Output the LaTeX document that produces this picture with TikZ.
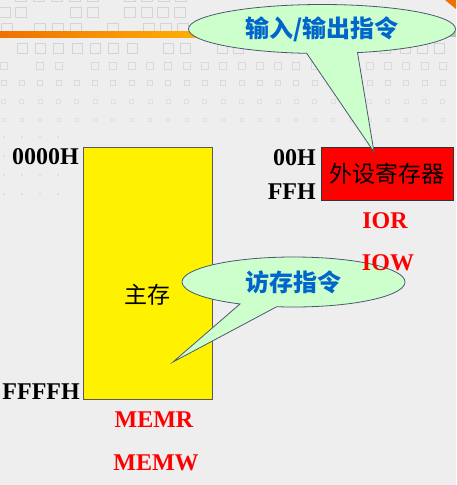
\documentclass[tikz,border=0pt]{standalone}
\usepackage{fontspec}
\setmainfont{Liberation Serif}
\newfontfamily\cjk{Noto Sans CJK SC}
\usetikzlibrary{shapes.callouts}
\definecolor{bg}{HTML}{EEEEEE}
\definecolor{calloutfill}{HTML}{CCFFCC}
\definecolor{calloutline}{HTML}{4A5870}
\definecolor{bluetext}{HTML}{0066CC}
\definecolor{sqA}{HTML}{D4D4D4}
\definecolor{sqB}{HTML}{DADADA}
\definecolor{sqC}{HTML}{E0E0E0}
\definecolor{orangeL}{HTML}{F07000}
\definecolor{orangeR}{HTML}{FFB000}
\definecolor{barR}{HTML}{AFC8B0}
\begin{document}
\begin{tikzpicture}[x=1pt,y=-1pt,
  addr/.style={font=\fontsize{24}{24}\selectfont\bfseries, inner sep=0pt, anchor=east},
  sig/.style={font=\fontsize{24}{24}\selectfont\bfseries, text=red, inner sep=0pt},
  cjktext/.style={font=\cjk\fontsize{23}{23}\selectfont, inner sep=0pt},
  callbox/.style={ellipse callout, fill=calloutfill, draw=calloutline, line width=0.8pt,
    inner sep=0pt, text=bluetext, font=\cjk\fontsize{24}{24}\selectfont\bfseries},
  sqbig/.style={draw=sqA, line width=0.9pt},
  sqmid/.style={draw=sqB, line width=0.8pt},
  sqsmall/.style={draw=sqC, line width=0.7pt}]
\useasboundingbox (0,0) rectangle (456,485);
\fill[bg] (0,0) rectangle (456,485);
% decorative squares
\foreach \x in {21,39,57,75,93,130,147,164,181} \draw[sqbig] (\x-5.5,-9) rectangle (\x+5.5,1);
\foreach \x in {4.5,21,76,93,130,146.5,162.5,180} \draw[sqbig] (\x-5.5,7) rectangle (\x+5.5,17);
\foreach \x in {7,40,58,76,113,149,166,183} \draw[sqbig] (\x-5.5,23) rectangle (\x+5.5,33);
\foreach \x in {22,40,58,77,95,113,132,168,185,222,238,385,405,422,439} \draw[sqbig] (\x-5,43) rectangle (\x+5,53);
\foreach \i in {0,2,3,5,6,7,8,9,10,11,12,13,14,15,16,17,19,20,21,22,23,24} \draw[sqmid] (3.5+18.3*\i-3.5,62) rectangle (3.5+18.3*\i+3.5,69);
\foreach \i in {0,...,24} \draw[sqmid] (3.5+18.3*\i-2.5,80) rectangle (3.5+18.3*\i+2.5,85);
\foreach \i in {0,...,24} \draw[sqsmall] (3.5+18.3*\i-2,99) rectangle (3.5+18.3*\i+2,103);
\foreach \i in {0,...,24} \draw[sqsmall] (3.5+18.3*\i-1.5,118) rectangle (3.5+18.3*\i+1.5,121);
\foreach \yy in {137,156,175,194} \foreach \i in {0,...,3} \fill[sqC] (3.5+18.3*\i-1,\yy-1) rectangle (3.5+18.3*\i+1,\yy+1);
% orange line and corner
\shade[left color=orangeL, right color=orangeR] (0,31) rectangle (200,37);
\fill[barR] (440,31) rectangle (456,37);
\fill[orangeL] (445,0) -- (456,0) -- (456,9) -- cycle;
% main memory
\node[draw=gray!70!black, line width=0.8pt, fill=yellow, minimum width=129, minimum height=252,
  inner sep=0pt, anchor=north west] (mem) at (83,147) {};
\node[cjktext] (memlabel) at (147,295) {主存};
\node[addr] (a0) at (79,157) {0000H};
\node[addr] (a1) at (80,392) {FFFFH};
\node[sig] (memr) at (154,420) {MEMR};
\node[sig] (memw) at (156,463) {MEMW};
% I/O registers
\node[draw=gray!40!black, line width=0.8pt, fill=red, minimum width=132, minimum height=53,
  inner sep=0pt, cjktext] (ioreg) at (387,173.5) {外设寄存器};
\node[addr] (p0) at (316,158) {00H};
\node[addr] (p1) at (316,192) {FFH};
\node[sig] (ior) at (385,221) {IOR};
% callouts
\node[callbox, minimum width=267, minimum height=49, callout absolute pointer={(374,152)},
  callout pointer arc=22] (iocall) at (322,29) {输入/输出指令};
\node[callbox, minimum width=223, minimum height=50, callout absolute pointer={(173,362)},
  callout pointer arc=20] (memcall) at (293.5,282) {访存指令};
\node[sig] (iow) at (388,263) {IOW};
\end{tikzpicture}
\end{document}
